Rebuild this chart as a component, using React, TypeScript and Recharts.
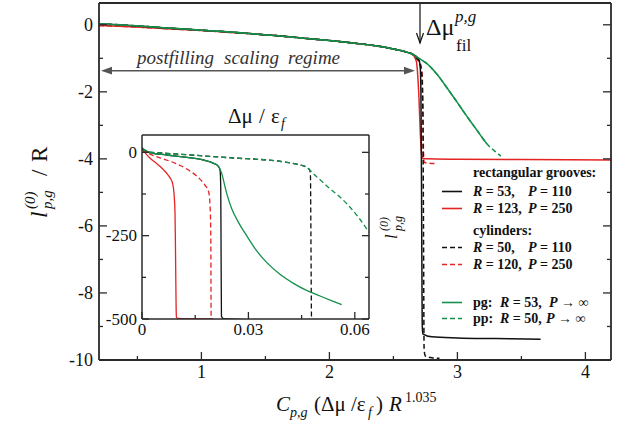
import React from "react";
import { LineChart, Line, XAxis, YAxis } from "recharts";

// ---- main panel: scaled adsorption vs scaled chemical potential ----
const upperX = [0.2, 0.4, 0.6, 0.8, 1.0, 1.2, 1.4, 1.6, 1.8, 2.0, 2.2, 2.4, 2.5, 2.6, 2.65];
const upperY = [0.03, -0.01, -0.06, -0.11, -0.16, -0.21, -0.27, -0.33, -0.4, -0.47, -0.55, -0.65, -0.72, -0.81, -0.88];
const upperRedY = [-0.02, -0.05, -0.09, -0.13, -0.17, -0.22, -0.27, -0.33, -0.4, -0.47, -0.55, -0.65, -0.72, -0.81, -0.88];

const groove53X = [2.68, 2.7, 2.71, 2.715, 2.72, 2.725, 2.73, 2.8, 3.0, 3.3, 3.65];
const groove53Y = [-0.95, -1.05, -1.3, -2.0, -5.0, -8.9, -9.22, -9.31, -9.34, -9.36, -9.38];

const groove123X = [2.66, 2.68, 2.69, 2.7, 2.71, 2.72, 2.73, 2.76, 3.0, 3.5, 4.2];
const groove123Y = [-0.93, -1.1, -1.5, -2.2, -3.2, -3.85, -3.98, -4.0, -4.01, -4.02, -4.03];

const cyl50X = [2.67, 2.7, 2.72, 2.73, 2.735, 2.74, 2.75, 2.8, 2.86];
const cyl50Y = [-0.95, -1.1, -1.4, -2.5, -6.0, -9.7, -9.88, -9.93, -9.95];

const cyl120X = [2.68, 2.71, 2.725, 2.73, 2.735, 2.74, 2.78, 2.84];
const cyl120Y = [-1.0, -1.15, -1.5, -2.5, -3.8, -4.1, -4.13, -4.14];

const pgX = [2.68, 2.72, 2.76, 2.8, 2.85, 2.9, 2.95, 3.0, 3.05, 3.1, 3.15, 3.2, 3.23];
const pgY = [-0.95, -1.05, -1.15, -1.3, -1.52, -1.78, -2.05, -2.32, -2.6, -2.87, -3.13, -3.4, -3.55];

const ppX = [2.68, 2.72, 2.76, 2.8, 2.85, 2.9, 2.95, 3.0, 3.05, 3.1, 3.15, 3.2, 3.23, 3.28, 3.34];
const ppY = [-0.95, -1.05, -1.15, -1.3, -1.52, -1.78, -2.05, -2.32, -2.6, -2.87, -3.13, -3.4, -3.55, -3.73, -3.92];

const mainXTicks = [0.5, 1, 1.5, 2, 2.5, 3, 3.5, 4];
const mainXLabels = [1, 2, 3, 4];
const mainYTicks = [-10, -9, -8, -7, -6, -5, -4, -3, -2, -1, 0];
const mainYLabels = [-10, -8, -6, -4, -2, 0];

// ---- inset: raw adsorption vs Δμ/ε_f ----
const inGroove123X = [0, 0.001, 0.0023, 0.0037, 0.0052, 0.0063, 0.0072, 0.008, 0.0086, 0.0089, 0.0091, 0.0093, 0.0094, 0.0095, 0.0096, 0.0097, 0.01, 0.014, 0.02];
const inGroove123Y = [8, -3, -18, -30, -43, -55, -66, -78, -92, -110, -134, -180, -250, -350, -450, -494, -498, -499, -500];

const inCyl120X = [0, 0.002, 0.0047, 0.0094, 0.0131, 0.0159, 0.0178, 0.0188, 0.0192, 0.0194, 0.0195, 0.02];
const inCyl120Y = [8, -4, -15, -33, -53, -76, -99, -119, -164, -255, -497, -500];

const inGroove53X = [0, 0.002, 0.007, 0.0127, 0.0173, 0.0202, 0.0216, 0.022, 0.0222, 0.0223, 0.0224, 0.023, 0.0295];
const inGroove53Y = [12, 0, -8, -15, -23, -33, -43, -53, -104, -305, -492, -499, -502];

const inPgX = [0, 0.002, 0.007, 0.0127, 0.0173, 0.0202, 0.0216, 0.0225, 0.0232, 0.0239, 0.0253, 0.0272, 0.0295, 0.0323, 0.0352, 0.0389, 0.0427, 0.0464, 0.0502, 0.0539, 0.0563];
const inPgY = [14, 0, -8, -15, -23, -33, -43, -64, -94, -124, -169, -210, -250, -295, -331, -366, -393, -414, -431, -447, -457];

const inCyl50X = [0, 0.002, 0.007, 0.0164, 0.0258, 0.0352, 0.0408, 0.0445, 0.0464, 0.0473, 0.0475, 0.0476, 0.0478, 0.0488];
const inCyl50Y = [10, 1, -3, -10, -17, -23, -30, -38, -45, -53, -74, -205, -497, -504];

const inPpX = [0, 0.002, 0.007, 0.0164, 0.0258, 0.0352, 0.0408, 0.0445, 0.0464, 0.0473, 0.0488, 0.0506, 0.053, 0.0558, 0.0586, 0.0614, 0.064];
const inPpY = [10, 1, -3, -10, -17, -23, -30, -38, -45, -53, -69, -86, -109, -134, -164, -200, -240];

const inXTicks = [0, 0.015, 0.03, 0.045, 0.06];
const inXLabels = [0, 0.03, 0.06];
const inYTicks = [-500, -375, -250, -125, 0];
const inYLabels = [-500, -250, 0];

const zip = (xs: number[], ys: number[]) => xs.map((x, i) => ({ x, y: ys[i] }));

const SERIF = "'Liberation Serif', 'Times New Roman', 'DejaVu Serif', serif";
const serif = { fontFamily: SERIF };
const BLACK = "#111111";
const RED = "#e42424";
const GREEN = "#14904a";
const FRAME = "#2a2a2a";

const mainSeries = [
  { key: "g123", data: zip(upperX, upperRedY).concat(zip(groove123X, groove123Y)), color: RED, dash: undefined },
  { key: "c120", data: zip(upperX, upperRedY).concat(zip(cyl120X, cyl120Y)), color: RED, dash: "5 3" },
  { key: "g53", data: zip(upperX, upperY).concat(zip(groove53X, groove53Y)), color: BLACK, dash: undefined },
  { key: "c50", data: zip(upperX, upperY).concat(zip(cyl50X, cyl50Y)), color: BLACK, dash: "5 3" },
  { key: "pp", data: zip(upperX, upperY).concat(zip(ppX, ppY)), color: GREEN, dash: "5 3" },
  { key: "pg", data: zip(upperX, upperY).concat(zip(pgX, pgY)), color: GREEN, dash: undefined },
];

const insetSeries = [
  { key: "g123", data: zip(inGroove123X, inGroove123Y), color: RED, dash: undefined },
  { key: "c120", data: zip(inCyl120X, inCyl120Y), color: RED, dash: "5 3" },
  { key: "g53", data: zip(inGroove53X, inGroove53Y), color: BLACK, dash: undefined },
  { key: "c50", data: zip(inCyl50X, inCyl50Y), color: BLACK, dash: "5 3" },
  { key: "pp", data: zip(inPpX, inPpY), color: GREEN, dash: "5 3" },
  { key: "pg", data: zip(inPgX, inPgY), color: GREEN, dash: undefined },
];

type Side = "left" | "right" | "top" | "bottom";

function makeTick(side: Side, labels: number[], fontSize: number, major: number, minor: number, gap: number) {
  return (props: any) => {
    const { x, y, payload } = props;
    const v = payload.value;
    const isMajor = labels.some((l) => Math.abs(l - v) < 1e-9);
    const len = isMajor ? major : minor;
    let line;
    let label = null;
    if (side === "left") {
      line = <line x1={x} x2={x + len} y1={y} y2={y} stroke={FRAME} strokeWidth={1.3} />;
      if (isMajor)
        label = (
          <text x={x - gap} y={y} dy={fontSize * 0.34} textAnchor="end" fontSize={fontSize} style={serif} fill="#111">
            {String(v)}
          </text>
        );
    } else if (side === "right") {
      line = <line x1={x} x2={x - len} y1={y} y2={y} stroke={FRAME} strokeWidth={1.3} />;
    } else if (side === "top") {
      line = <line x1={x} x2={x} y1={y} y2={y + len} stroke={FRAME} strokeWidth={1.3} />;
    } else {
      line = <line x1={x} x2={x} y1={y} y2={y - len} stroke={FRAME} strokeWidth={1.3} />;
      if (isMajor)
        label = (
          <text x={x} y={y + gap} textAnchor="middle" fontSize={fontSize} style={serif} fill="#111">
            {String(v)}
          </text>
        );
    }
    return (
      <g>
        {line}
        {label}
      </g>
    );
  };
}

const legendRows = [
  { kind: "head", text: "rectangular grooves:", y: 177 },
  { kind: "row", color: BLACK, dash: undefined, pre: "", r: "53,", p: "110", y: 196, rx: 473, px: 528, arrow: false },
  { kind: "row", color: RED, dash: undefined, pre: "", r: "123,", p: "250", y: 213, rx: 473, px: 528, arrow: false },
  { kind: "head", text: "cylinders:", y: 235 },
  { kind: "row", color: BLACK, dash: "5 3", pre: "", r: "50,", p: "110", y: 252, rx: 473, px: 528, arrow: false },
  { kind: "row", color: RED, dash: "5 3", pre: "", r: "120,", p: "250", y: 269, rx: 473, px: 528, arrow: false },
  { kind: "row", color: GREEN, dash: undefined, pre: "pg: ", r: "53,", p: "", y: 307, rx: 500, px: 549, arrow: true },
  { kind: "row", color: GREEN, dash: "5 3", pre: "pp: ", r: "50,", p: "", y: 323, rx: 500, px: 546, arrow: true },
];

function Overlay() {
  return (
    <svg width={619} height={426} style={{ position: "absolute", left: 0, top: 0, pointerEvents: "none", fontFamily: SERIF }}>
      {/* y axis title */}
      <g transform="translate(47,218) rotate(-90)" fill="#111">
        <text x={0} y={0} fontSize={23} fontStyle="italic">l</text>
        <text x={9} y={-12} fontSize={15} fontStyle="italic">(0)</text>
        <text x={9} y={5} fontSize={15} fontStyle="italic">p,g</text>
        <text x={42} y={0} fontSize={23}>/</text>
        <text x={56} y={0} fontSize={23}>R</text>
      </g>
      {/* x axis title */}
      <text y={411} fontSize={21} fill="#111">
        <tspan x={276} fontStyle="italic">C</tspan>
        <tspan x={290} dy={6} fontSize={14} fontStyle="italic">p,g</tspan>
        <tspan x={314} dy={-6}>(Δμ /ε</tspan>
        <tspan x={368} dy={6} fontSize={14} fontStyle="italic">f</tspan>
        <tspan x={376} dy={-6}>)</tspan>
        <tspan x={389} fontStyle="italic">R</tspan>
        <tspan x={405} dy={-9} fontSize={14}>1.035</tspan>
      </text>
      {/* filling arrow */}
      <line x1={420} x2={420} y1={4} y2={43} stroke="#111" strokeWidth={1.2} />
      <polyline points="416.5,33 420,43 423.5,33" fill="none" stroke="#111" strokeWidth={1.2} />
      <text fontSize={24} fill="#111">
        <tspan x={426} y={35}>Δμ</tspan>
        <tspan x={455} y={22} fontSize={17} fontStyle="italic">p,g</tspan>
        <tspan x={456} y={51} fontSize={17}>fil</tspan>
      </text>
      {/* postfilling regime */}
      <text y={64} fontSize={19} fontStyle="italic" fill="#333">
        <tspan x={137}>postfilling</tspan>
        <tspan x={224}>scaling</tspan>
        <tspan x={288}>regime</tspan>
      </text>
      <line x1={108} x2={408} y1={70.7} y2={70.7} stroke="#555" strokeWidth={1.6} />
      <polygon points="101,70.7 112,66.8 112,74.6" fill="#555" />
      <polygon points="415,70.7 404,66.8 404,74.6" fill="#555" />
      {/* inset title */}
      <text y={123} fontSize={21} fill="#111">
        <tspan x={228}>Δμ</tspan>
        <tspan x={259}>/</tspan>
        <tspan x={271}>ε</tspan>
        <tspan x={281} dy={5} fontSize={14} fontStyle="italic">f</tspan>
      </text>
      {/* inset y title */}
      <g transform="translate(397,239) rotate(-90)" fill="#111">
        <text x={0} y={0} fontSize={17} fontStyle="italic">l</text>
        <text x={8} y={-9} fontSize={12} fontStyle="italic">(0)</text>
        <text x={8} y={5} fontSize={12} fontStyle="italic">p,g</text>
      </g>
      {/* legend */}
      {legendRows.map((r, i) =>
        r.kind === "head" ? (
          <text key={i} x={473} y={r.y} fontSize={14} fontWeight="bold" fill="#111">
            {r.text}
          </text>
        ) : (
          <g key={i}>
            <line x1={442} x2={462} y1={r.y - 4.5} y2={r.y - 4.5} stroke={r.color} strokeWidth={1.6} strokeDasharray={r.dash} />
            {r.pre ? (
              <text x={473} y={r.y} fontSize={14} fontWeight="bold" fill="#111">
                {r.pre.trim()}
              </text>
            ) : null}
            <text x={r.rx} y={r.y} fontSize={14} fontWeight="bold" fill="#111">
              <tspan fontStyle="italic">R</tspan>
              <tspan> = {r.r}</tspan>
            </text>
            <text x={r.px} y={r.y} fontSize={14} fontWeight="bold" fill="#111">
              <tspan fontStyle="italic">P</tspan>
              <tspan>{r.arrow ? " → ∞" : ` = ${r.p}`}</tspan>
            </text>
          </g>
        )
      )}
    </svg>
  );
}

export default function App() {
  return (
    <div style={{ position: "absolute", left: 0, top: 0, width: 619, height: 426, background: "#fff", fontFamily: SERIF }}>
      <LineChart width={619} height={426} margin={{ top: 2, right: 7, bottom: 0, left: 0 }}>
        <XAxis
          dataKey="x"
          type="number"
          domain={[0.2, 4.2]}
          ticks={mainXTicks}
          interval={0}
          allowDataOverflow
          height={66}
          tickSize={0}
          tickMargin={0}
          tickLine={false}
          axisLine={{ stroke: FRAME, strokeWidth: 1.8 }}
          tick={makeTick("bottom", mainXLabels, 18, 8, 4, 18)}
        />
        <XAxis
          xAxisId="top"
          orientation="top"
          type="number"
          domain={[0.2, 4.2]}
          ticks={mainXTicks}
          interval={0}
          allowDataOverflow
          height={1}
          tickSize={0}
          tickMargin={0}
          tickLine={false}
          axisLine={{ stroke: FRAME, strokeWidth: 1.8 }}
          tick={makeTick("top", mainXLabels, 18, 8, 4, 0)}
        />
        <YAxis
          type="number"
          domain={[-10, 0.65]}
          ticks={mainYTicks}
          interval={0}
          allowDataOverflow
          width={99}
          tickSize={0}
          tickMargin={0}
          tickLine={false}
          axisLine={{ stroke: FRAME, strokeWidth: 1.8 }}
          tick={makeTick("left", mainYLabels, 18, 8, 4, 6)}
        />
        <YAxis
          yAxisId="right"
          orientation="right"
          type="number"
          domain={[-10, 0.65]}
          ticks={mainYTicks}
          interval={0}
          allowDataOverflow
          width={1}
          tickSize={0}
          tickMargin={0}
          tickLine={false}
          axisLine={{ stroke: FRAME, strokeWidth: 1.8 }}
          tick={makeTick("right", mainYLabels, 18, 8, 4, 0)}
        />
        {mainSeries.map((s) => (
          <Line
            key={s.key}
            data={s.data}
            dataKey="y"
            type="monotone"
            stroke={s.color}
            strokeWidth={1.5}
            strokeDasharray={s.dash}
            dot={false}
            activeDot={false}
            isAnimationActive={false}
          />
        ))}
      </LineChart>

      <div style={{ position: "absolute", left: 100, top: 110, width: 280, height: 230 }}>
        <LineChart width={280} height={230} margin={{ top: 24, right: 10, bottom: 0, left: 0 }}>
          <XAxis
            dataKey="x"
            type="number"
            domain={[0, 0.064]}
            ticks={inXTicks}
            interval={0}
            allowDataOverflow
            height={21}
            tickSize={0}
            tickMargin={0}
            tickLine={false}
            axisLine={{ stroke: FRAME, strokeWidth: 1.5 }}
            tick={makeTick("bottom", inXLabels, 17, 7, 4, 16)}
          />
          <XAxis
            xAxisId="top"
            orientation="top"
            type="number"
            domain={[0, 0.064]}
            ticks={inXTicks}
            interval={0}
            allowDataOverflow
            height={1}
            tickSize={0}
            tickMargin={0}
            tickLine={false}
            axisLine={{ stroke: FRAME, strokeWidth: 1.5 }}
            tick={makeTick("top", inXLabels, 17, 7, 4, 0)}
          />
          <YAxis
            type="number"
            domain={[-500, 52]}
            ticks={inYTicks}
            interval={0}
            allowDataOverflow
            width={42}
            tickSize={0}
            tickMargin={0}
            tickLine={false}
            axisLine={{ stroke: FRAME, strokeWidth: 1.5 }}
            tick={makeTick("left", inYLabels, 17, 7, 4, 5)}
          />
          <YAxis
            yAxisId="right"
            orientation="right"
            type="number"
            domain={[-500, 52]}
            ticks={inYTicks}
            interval={0}
            allowDataOverflow
            width={1}
            tickSize={0}
            tickMargin={0}
            tickLine={false}
            axisLine={{ stroke: FRAME, strokeWidth: 1.5 }}
            tick={makeTick("right", inYLabels, 17, 7, 4, 0)}
          />
          {insetSeries.map((s) => (
            <Line
              key={s.key}
              data={s.data}
              dataKey="y"
              type="monotone"
              stroke={s.color}
              strokeWidth={1.3}
              strokeDasharray={s.dash}
              dot={false}
              activeDot={false}
              isAnimationActive={false}
            />
          ))}
        </LineChart>
      </div>
      <Overlay />
    </div>
  );
}
